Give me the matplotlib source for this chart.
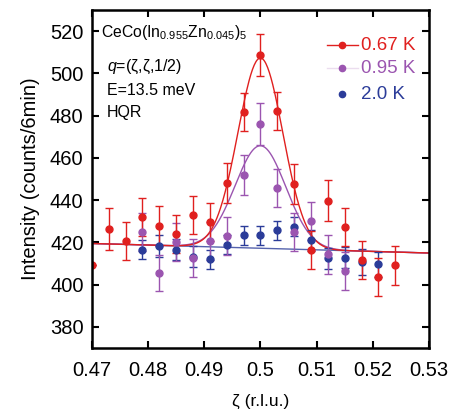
import numpy as np
import matplotlib
matplotlib.use('Agg')
import matplotlib.pyplot as plt
from matplotlib import rcParams

rcParams['font.family'] = ['Liberation Sans', 'DejaVu Sans']
rcParams['mathtext.fontset'] = 'custom'
rcParams['mathtext.rm'] = 'Liberation Sans'
rcParams['mathtext.it'] = 'Liberation Sans:italic'

# data
x_red = [0.470, 0.473, 0.476, 0.479, 0.482, 0.485, 0.488, 0.491, 0.494, 0.497,
         0.500, 0.503, 0.506, 0.509, 0.512, 0.515, 0.518, 0.521, 0.524]
y_red = [409.5, 426.4, 420.9, 431.9, 427.7, 424.1, 433.0, 429.6, 448.1, 481.5,
         508.5, 482.2, 447.8, 416.5, 439.8, 427.2, 411.9, 403.6, 409.1]
e_red = [0, 10, 9, 9, 9.5, 9, 9, 9, 9.5, 9, 10, 9, 9.5, 9, 9.5, 9, 9, 9, 9]

x_pur = [0.479, 0.482, 0.485, 0.488, 0.491, 0.494, 0.497, 0.500, 0.503, 0.506,
         0.509, 0.512, 0.515]
y_pur = [425.1, 405.6, 420.4, 412.7, 420.8, 423.0, 451.9, 476.0, 445.9, 425.1,
         430.0, 414.3, 406.3]
e_pur = [9, 8.5, 9, 9, 9, 9, 9.5, 10, 9, 9, 9, 9, 9]

x_blu = [0.479, 0.482, 0.485, 0.488, 0.491, 0.494, 0.497, 0.500, 0.503, 0.506,
         0.509, 0.512, 0.515, 0.518, 0.521]
y_blu = [416.5, 418.3, 416.5, 413.3, 412.0, 419.0, 423.3, 423.3, 425.8, 427.4,
         421.0, 412.6, 412.7, 410.7, 409.6]
e_blu = [4.5, 5, 5, 5, 4.5, 4.5, 4.5, 4.5, 4.5, 4.5, 5, 5, 5, 6, 6]

# fit parameters (gaussian on sloped background)
bg_left, bg_right = 419.5, 415.0
amp_red, sig_red = 90.0, 0.0040
amp_pur, sig_pur = 48.5, 0.0045
center = 0.5

c_red = '#e0201f'
c_pur = '#9b55b0'
c_blu = '#2b3c99'

fig = plt.figure(figsize=(4.55, 4.12), dpi=100)
ax = fig.add_axes([0.202, 0.155, 0.741, 0.821])

xf = np.linspace(0.47, 0.53, 400)
bg = bg_left + (bg_right - bg_left) * (xf - 0.47) / 0.06
ax.plot(xf, bg, color=c_blu, lw=1.0, alpha=0.8)
ax.plot(xf, bg + amp_pur * np.exp(-(xf - center)**2 / (2 * sig_pur**2)), color=c_pur, lw=1.0)
ax.plot(xf, bg + amp_red * np.exp(-(xf - center)**2 / (2 * sig_red**2)), color=c_red, lw=1.0)

kw = dict(fmt='o', ms=5, capsize=3, elinewidth=1.0, capthick=1.0)
ax.errorbar(x_blu, y_blu, yerr=e_blu, color=c_blu, ecolor=c_blu, **kw)
ax.errorbar(x_pur, y_pur, yerr=e_pur, color=c_pur, ecolor=c_pur, **kw)
ax.errorbar(x_red, y_red, yerr=e_red, color=c_red, ecolor=c_red, **kw)

ax.set_xlim(0.47, 0.53)
ax.set_ylim(370, 530)
ax.set_xticks([0.47, 0.48, 0.49, 0.5, 0.51, 0.52, 0.53])
ax.set_xticklabels(['0.47', '0.48', '0.49', '0.5', '0.51', '0.52', '0.53'])
ax.set_yticks(np.arange(380, 521, 20))
ax.tick_params(direction='in', length=5, width=1.5, labelsize=14.5,
               top=True, right=True)
ax.tick_params(axis='x', pad=9)
ax.tick_params(axis='y', pad=6)
for s in ax.spines.values():
    s.set_linewidth(1.8)

ax.set_ylabel('Intensity (counts/6min)', fontsize=14.5, labelpad=7)
ax.set_xlabel('ζ (r.l.u.)', fontsize=12.5, labelpad=10)

ax.text(0.4717, 519.4, r'CeCo(In$_{0.955}$Zn$_{0.045}$)$_5$', fontsize=11.3, va='center')
ax.text(0.4727, 502.9, r'$q$=(ζ,ζ,1/2)', fontsize=11.5, va='center')
ax.text(0.4727, 492.0, 'E=13.5 meV', fontsize=11.5, va='center')
ax.text(0.4727, 481.6, 'HQR', fontsize=11.5, va='center')

# legend by hand
lx0, lx1, lxt = 0.5118, 0.5173, 0.5178
ly = [513.3, 502.4, 490.1]
ax.plot([lx0, lx1], [ly[0], ly[0]], color=c_red, lw=1.0)
ax.plot([lx0, lx1], [ly[1], ly[1]], color=c_pur, lw=1.0, alpha=0.2)
for yy, c in zip(ly, [c_red, c_pur, c_blu]):
    ax.plot((lx0 + lx1) / 2, yy, 'o', ms=4.5, color=c)
ax.text(lxt, ly[0], '0.67 K', color=c_red, fontsize=13.5, va='center')
ax.text(lxt, ly[1], '0.95 K', color=c_pur, fontsize=13.5, va='center')
ax.text(lxt, ly[2], '2.0 K', color=c_blu, fontsize=13.5, va='center')

fig.savefig('out.png', dpi=100)
